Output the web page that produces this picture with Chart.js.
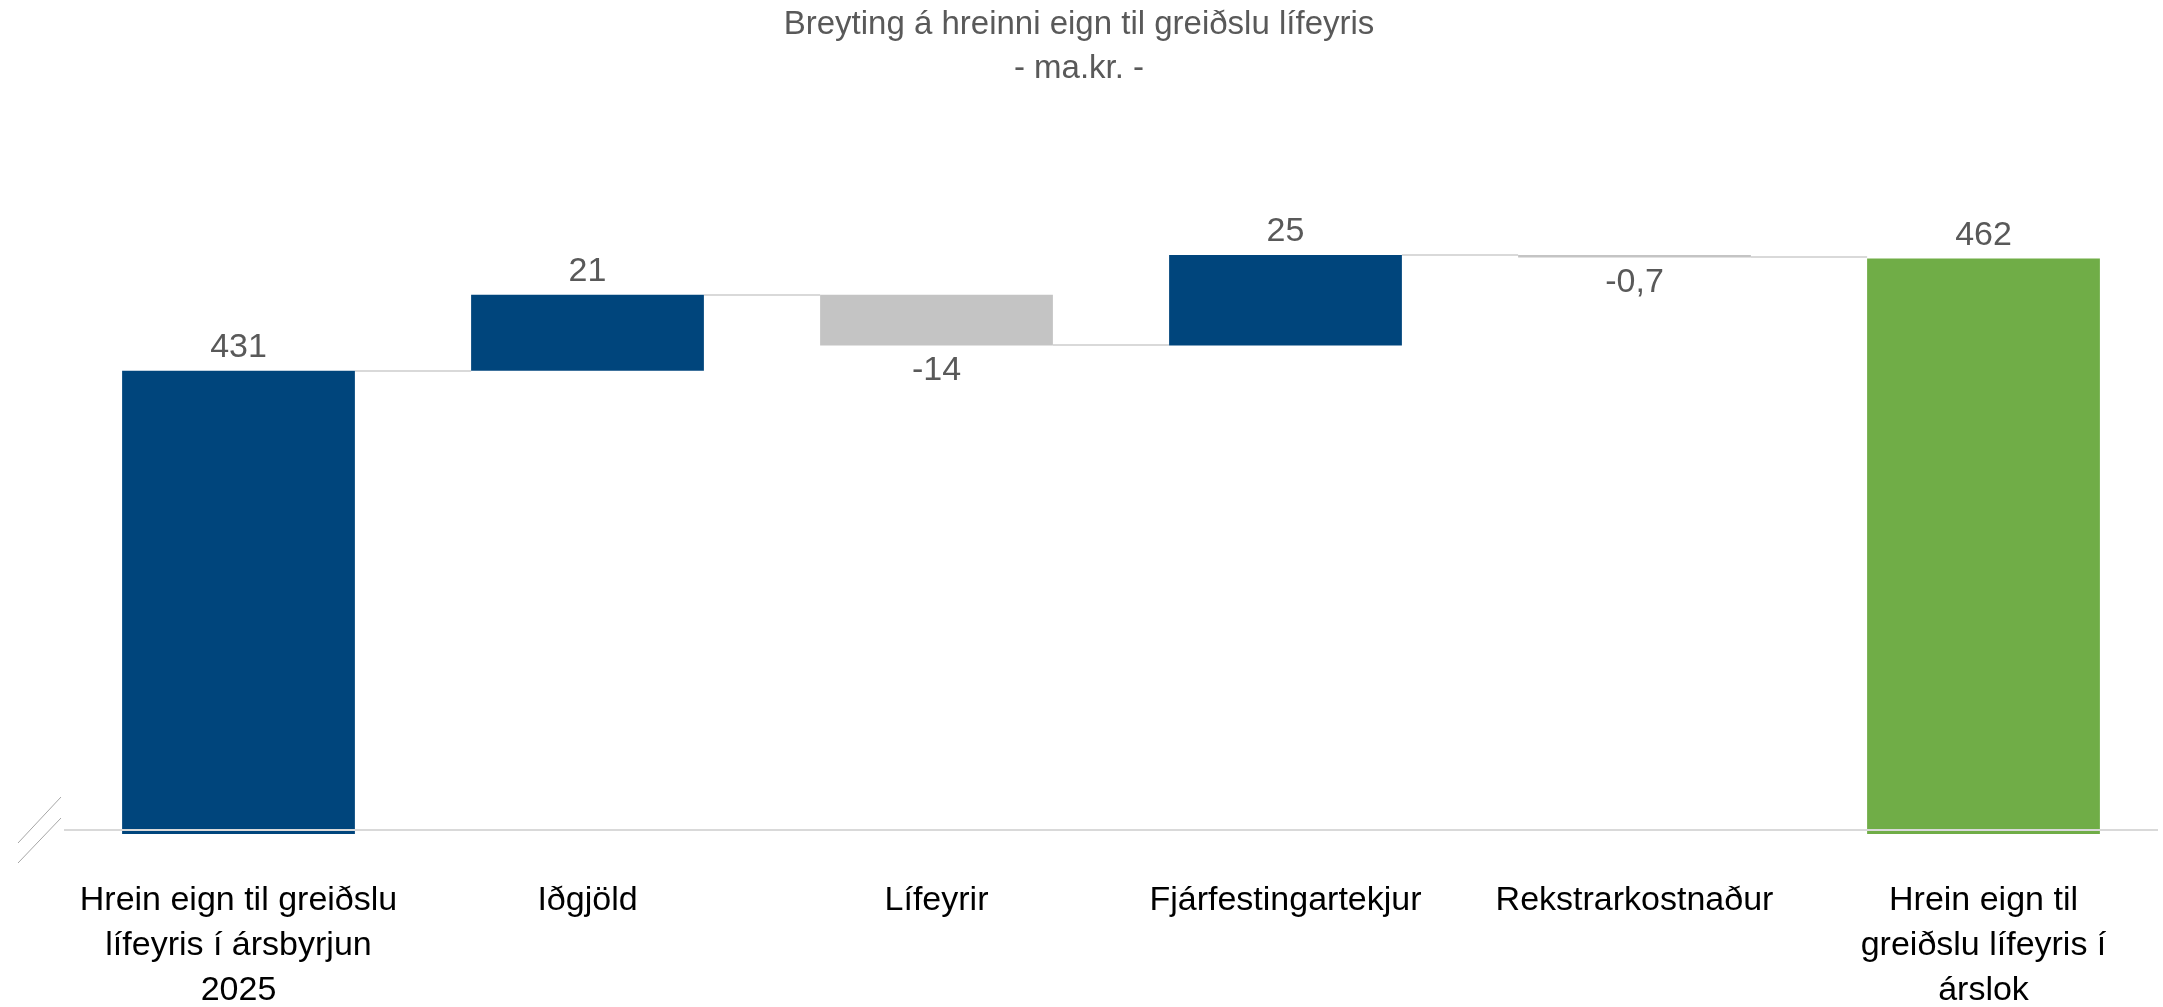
<!DOCTYPE html>
<html><head><meta charset="utf-8">
<script src="https://cdn.jsdelivr.net/npm/chart.js@4.4.1/dist/chart.umd.min.js"></script>
<style>html,body{margin:0;padding:0;background:#fff;overflow:hidden}#wrap{width:2163px;height:1007px;position:relative}</style>
</head><body><div id="wrap"><canvas id="c" width="2163" height="1007"></canvas></div>
<script>
const categories = [
  ["Hrein eign til greiðslu", "lífeyris í ársbyrjun", "2025"],
  "Iðgjöld",
  "Lífeyrir",
  "Fjárfestingartekjur",
  "Rekstrarkostnaður",
  ["Hrein eign til", "greiðslu lífeyris í", "árslok"]
];
const startValue = 431;
const changes = [21, -14, 25, -0.7];
const endValue = 462;
const valueLabels = ["431", "21", "-14", "25", "-0,7", "462"];
const titleLines = ["Breyting á hreinni eign til greiðslu lífeyris", "- ma.kr. -"];
const axisMin = 303;
const axisMax = 500;

const FONT = "'Liberation Sans', Arial, sans-serif";
const BLUE = "#00457c", GRAY = "#c4c4c4", GREEN = "#70ad47";
const AXIS_LIFT = 4; // axis line sits slightly above bar bottoms (broken axis)

// build waterfall table
const ranges = [], kinds = [], levels = [];
ranges.push([axisMin, startValue]); kinds.push("start"); levels.push(startValue);
let run = startValue;
changes.forEach(d => { ranges.push([run, run + d]); kinds.push(d >= 0 ? "up" : "down"); run += d; levels.push(run); });
ranges.push([axisMin, endValue]); kinds.push("end"); levels.push(endValue);
const colors = kinds.map(k => k === "down" ? GRAY : (k === "end" ? GREEN : BLUE));

const connectorPlugin = {
  id: "connectors",
  beforeDatasetsDraw(chart) {
    const ctx = chart.ctx, y = chart.scales.y, meta = chart.getDatasetMeta(0);
    ctx.save();
    ctx.strokeStyle = "#d9d9d9"; ctx.lineWidth = 2;
    for (let i = 0; i < meta.data.length - 1; i++) {
      const a = meta.data[i], b = meta.data[i + 1];
      const py = Math.round(y.getPixelForValue(levels[i]));
      ctx.beginPath();
      ctx.moveTo(a.x + a.width / 2, py);
      ctx.lineTo(b.x - b.width / 2, py);
      ctx.stroke();
    }
    ctx.restore();
  }
};

const labelPlugin = {
  id: "valueLabels",
  afterDatasetsDraw(chart) {
    const ctx = chart.ctx, meta = chart.getDatasetMeta(0), ca = chart.chartArea;
    ctx.save();
    // category axis line, drawn over the bars
    ctx.strokeStyle = "#d9d9d9"; ctx.lineWidth = 2;
    ctx.beginPath();
    ctx.moveTo(ca.left, ca.bottom - AXIS_LIFT); ctx.lineTo(ca.right, ca.bottom - AXIS_LIFT);
    ctx.stroke();
    ctx.font = "34px " + FONT; ctx.fillStyle = "#595959";
    ctx.textAlign = "center"; ctx.textBaseline = "middle";
    meta.data.forEach((el, i) => {
      const top = Math.min(el.y, el.base), bottom = Math.max(el.y, el.base);
      if (kinds[i] === "down") ctx.fillText(valueLabels[i], el.x, bottom + 25);
      else ctx.fillText(valueLabels[i], el.x, top - 23);
    });
    ctx.restore();
  }
};

const breakPlugin = {
  id: "axisBreak",
  afterDraw(chart) {
    const ctx = chart.ctx, ca = chart.chartArea, ay = ca.bottom - AXIS_LIFT;
    ctx.save();
    ctx.strokeStyle = "#a6a6a6"; ctx.lineWidth = 1;
    ctx.beginPath();
    ctx.moveTo(ca.left - 3, ay - 33); ctx.lineTo(ca.left - 46, ay + 13);
    ctx.moveTo(ca.left - 3, ay - 12); ctx.lineTo(ca.left - 46, ay + 33);
    ctx.stroke();
    ctx.restore();
  }
};

new Chart(document.getElementById("c"), {
  type: "bar",
  data: {
    labels: categories,
    datasets: [{
      data: ranges,
      backgroundColor: colors,
      borderWidth: 0,
      categoryPercentage: 1,
      barPercentage: 0.667
    }]
  },
  options: {
    responsive: false,
    devicePixelRatio: 1,
    animation: false,
    layout: { padding: { left: 0, right: 5, top: 0, bottom: -50 } },
    plugins: {
      legend: { display: false },
      tooltip: { enabled: false },
      title: {
        display: true,
        text: titleLines,
        color: "#595959",
        font: { family: FONT, size: 33, weight: "normal", lineHeight: 44 / 33 },
        padding: { top: 3, bottom: 30 }
      }
    },
    scales: {
      x: {
        grid: { display: false, drawTicks: false },
        border: { display: false },
        ticks: {
          color: "#000000",
          font: { family: FONT, size: 34, lineHeight: 45 / 34 },
          padding: 44,
          maxRotation: 0,
          autoSkip: false
        }
      },
      y: {
        display: true, min: axisMin, max: axisMax,
        grid: { display: false, drawTicks: false },
        border: { display: false },
        ticks: { display: false },
        afterFit(scale) { scale.width = 64; }
      }
    }
  },
  plugins: [connectorPlugin, labelPlugin, breakPlugin]
});
</script>
</body></html>
